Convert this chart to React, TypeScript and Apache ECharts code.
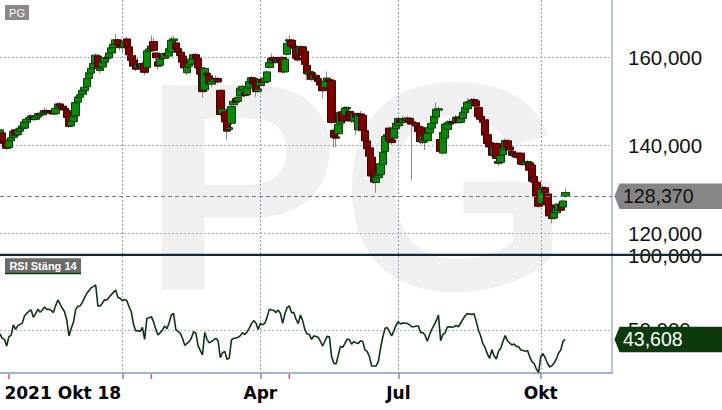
import React, { useEffect, useRef } from "react";
import * as echarts from "echarts";

// ---------- DATA ----------
const TICKER = "PG";
const RSI_TITLE = "RSI Stäng 14";

// NYSE trading days shown on the chart (month -> days)
const TRADING_DAYS: [string, number[]][] = [
  ["2021-10", [14, 15, 18, 19, 20, 21, 22, 25, 26, 27, 28, 29]],
  ["2021-11", [1, 2, 3, 4, 5, 8, 9, 10, 11, 12, 15, 16, 17, 18, 19, 22, 23, 24, 26, 29, 30]],
  ["2021-12", [1, 2, 3, 6, 7, 8, 9, 10, 13, 14, 15, 16, 17, 20, 21, 22, 23, 27, 28, 29, 30, 31]],
  ["2022-01", [3, 4, 5, 6, 7, 10, 11, 12, 13, 14, 18, 19, 20, 21, 24, 25, 26, 27, 28, 31]],
  ["2022-02", [1, 2, 3, 4, 7, 8, 9, 10, 11, 14, 15, 16, 17, 18, 22, 23, 24, 25, 28]],
  ["2022-03", [1, 2, 3, 4, 7, 8, 9, 10, 11, 14, 15, 16, 17, 18, 21, 22, 23, 24, 25, 28, 29, 30, 31]],
  ["2022-04", [1, 4, 5, 6, 7, 8, 11, 12, 13, 14, 18, 19, 20, 21, 22, 25, 26, 27, 28, 29]],
  ["2022-05", [2, 3, 4, 5, 6, 9, 10, 11, 12, 13, 16, 17, 18, 19, 20, 23, 24, 25, 26, 27, 31]],
  ["2022-06", [1, 2, 3, 6, 7, 8, 9, 10, 13, 14, 15, 16, 17, 21, 22, 23, 24, 27, 28, 29, 30]],
  ["2022-07", [1, 5, 6, 7, 8, 11, 12, 13, 14, 15, 18, 19, 20, 21, 22, 25, 26, 27, 28, 29]],
  ["2022-08", [1, 2, 3, 4, 5, 8, 9, 10, 11, 12, 15, 16, 17, 18, 19, 22, 23, 24, 25, 26, 29, 30, 31]],
  ["2022-09", [1, 2, 6, 7, 8, 9, 12, 13, 14, 15, 16, 19, 20, 21, 22, 23, 26, 27, 28, 29, 30]],
  ["2022-10", [3, 4, 5, 6, 7, 10, 11, 12, 13, 14, 17, 18]],
];
const FUTURE_SLOTS = 21; // empty space right of the last candle

const OPEN = [
  142.2, 142.8, 141.2, 140.6, 139.5, 141.0, 141.8, 143.5, 142.4, 143.2, 143.8, 143.9,
  145.2, 145.8, 146.2, 146.6, 145.9, 146.4, 147.2, 146.9, 147.3, 147.9, 147.5, 147.7,
  147.4, 147.2, 148.4, 149.4, 148.9, 148.4, 147.9, 146.5, 144.4, 145.4, 146.7, 149.8,
  150.9, 151.6, 152.4, 153.3, 155.2, 156.4, 157.5, 158.7, 160.3, 157.0, 157.8, 158.9,
  159.9, 159.9, 161.0, 162.2, 163.0, 164.0, 162.9, 162.6, 162.3, 164.2, 162.4, 160.4,
  159.4, 158.1, 157.6, 158.4, 157.8, 158.6, 157.7, 161.4, 161.9, 163.6, 161.0, 159.0,
  158.2, 160.2, 159.8, 160.9, 160.3, 161.2, 163.8, 163.3, 162.0, 161.2, 160.3, 158.9,
  156.5, 157.9, 158.4, 159.6, 160.6, 159.8, 157.6, 156.2, 152.6, 156.4, 155.8, 153.9,
  154.5, 155.0, 155.2, 152.5, 147.2, 147.6, 145.5, 143.6, 145.0, 149.2, 150.6, 150.0,
  151.2, 152.6, 152.0, 151.5, 153.0, 154.4, 155.2, 154.6, 152.3, 153.6, 155.0, 154.3,
  154.5, 157.7, 158.8, 160.0, 159.4, 158.9, 159.9, 160.0, 156.7, 160.7, 163.7, 163.9,
  162.6, 162.3, 159.9, 160.7, 162.4, 161.4, 158.2, 156.1, 156.5, 155.0, 155.9, 155.2,
  154.3, 154.0, 153.2, 154.5, 154.9, 154.7, 143.4, 141.9, 142.6, 145.0, 147.6, 146.8,
  148.3, 147.7, 146.8, 145.5, 147.2, 143.5, 147.1, 146.8, 143.3, 141.0, 139.4, 137.3,
  134.3, 131.5, 132.6, 133.3, 135.6, 138.6, 142.1, 143.9, 141.2, 141.6, 143.8, 144.4,
  145.8, 145.2, 145.9, 145.6, 146.1, 145.3, 144.9, 145.1, 144.3, 144.1, 140.6, 142.2,
  141.0, 142.8, 143.9, 145.0, 146.4, 148.0, 141.3, 138.2, 141.6, 143.6, 144.8, 145.4,
  145.3, 145.2, 146.4, 145.2, 146.1, 147.4, 148.3, 149.7, 149.7, 150.4, 150.1, 148.6,
  146.6, 145.7, 145.8, 142.4, 140.6, 140.4, 137.7, 140.4, 136.3, 136.1, 137.8, 139.0,
  141.0, 139.6, 138.6, 137.7, 138.2, 137.3, 138.2, 135.7, 135.7, 136.1, 136.0, 135.5,
  132.9, 131.6, 128.6, 126.8, 129.8, 130.3, 128.9, 126.4, 123.7, 123.4, 124.6, 125.2,
  126.4, 125.9, 128.37,
];
const CLOSE = [
  143.5, 141.0, 140.4, 139.3, 141.1, 141.7, 143.2, 142.3, 143.3, 143.9, 144.4, 145.3,
  145.9, 146.3, 146.7, 145.9, 146.5, 147.2, 146.9, 147.3, 147.9, 147.5, 147.6, 147.4,
  147.1, 148.4, 149.4, 148.9, 148.4, 148.0, 146.3, 144.3, 145.4, 146.6, 149.7, 151.0,
  151.5, 152.5, 153.2, 155.2, 156.5, 157.5, 158.6, 160.5, 157.5, 157.6, 158.8, 159.9,
  159.8, 161.0, 162.2, 163.0, 164.0, 162.9, 162.4, 162.2, 163.5, 162.4, 160.6, 159.3,
  158.0, 157.3, 158.4, 157.8, 158.6, 156.6, 161.5, 161.9, 162.6, 161.6, 159.9, 158.0,
  159.6, 159.8, 160.9, 160.4, 162.0, 163.9, 164.2, 161.9, 161.2, 160.4, 158.9, 157.6,
  157.8, 158.6, 159.6, 160.6, 159.8, 157.6, 156.2, 152.2, 157.5, 156.0, 154.0, 154.6,
  155.0, 155.2, 154.4, 147.0, 148.2, 145.3, 143.2, 144.0, 148.8, 150.0, 149.8, 150.9,
  153.0, 153.4, 151.3, 153.0, 154.5, 155.4, 154.0, 152.2, 152.8, 155.0, 154.3, 155.3,
  156.7, 158.8, 159.8, 159.3, 158.9, 159.8, 159.0, 156.7, 159.6, 163.2, 164.0, 162.5,
  162.1, 159.8, 159.4, 162.4, 160.5, 158.4, 156.3, 156.8, 155.0, 155.9, 155.3, 154.5,
  153.7, 152.4, 154.6, 155.3, 154.5, 145.2, 141.8, 141.6, 144.8, 147.5, 145.5, 148.5,
  148.6, 146.8, 145.5, 147.2, 146.4, 147.1, 146.7, 143.4, 141.0, 139.2, 137.5, 133.0,
  131.6, 132.7, 133.2, 135.8, 138.4, 142.0, 142.4, 141.0, 140.6, 143.9, 145.0, 146.1,
  145.2, 146.0, 145.7, 146.2, 145.3, 144.8, 145.0, 144.4, 143.1, 140.8, 142.3, 141.1,
  142.7, 144.0, 145.0, 146.6, 148.2, 148.3, 138.6, 142.9, 144.8, 145.0, 145.3, 145.1,
  145.1, 146.4, 145.2, 146.0, 147.5, 148.6, 149.8, 149.9, 150.3, 150.1, 148.9, 146.5,
  145.9, 145.2, 142.3, 140.4, 139.6, 137.7, 139.5, 137.0, 135.9, 137.7, 139.3, 141.1,
  139.5, 138.9, 137.7, 138.1, 137.3, 137.2, 135.7, 135.6, 136.2, 136.3, 134.3, 131.8,
  131.6, 128.4, 126.1, 130.0, 130.4, 129.2, 126.4, 123.9, 123.3, 124.6, 125.8, 126.6,
  125.2, 127.3, 129.25,
];
const LOW = [
  141.9, 140.6, 139.8, 138.9, 139.2, 140.6, 141.5, 141.9, 142.1, 142.9, 143.5, 143.6,
  144.9, 145.5, 145.9, 145.5, 145.6, 146.1, 146.5, 146.6, 147.0, 147.2, 147.1, 147.0,
  146.8, 147.0, 148.1, 148.5, 148.0, 147.6, 145.9, 143.9, 144.1, 145.2, 146.5, 149.5,
  150.6, 151.3, 152.1, 153.1, 154.9, 156.1, 157.2, 158.4, 157.1, 156.4, 157.5, 158.6,
  159.4, 159.6, 160.7, 161.9, 162.7, 162.5, 161.6, 161.0, 162.0, 162.0, 160.2, 158.9,
  157.6, 156.9, 157.3, 157.4, 157.5, 156.0, 157.4, 161.0, 161.5, 161.2, 159.3, 157.2,
  157.9, 159.3, 159.5, 160.0, 160.0, 160.9, 163.1, 161.5, 160.8, 160.0, 158.5, 157.1,
  156.0, 157.5, 158.0, 159.3, 159.3, 157.2, 155.8, 150.8, 152.2, 155.6, 153.0, 153.2,
  154.1, 154.6, 153.9, 146.6, 146.9, 144.9, 141.2, 143.0, 144.6, 148.8, 149.4, 149.7,
  150.9, 152.2, 150.9, 151.2, 152.7, 154.0, 153.6, 151.0, 151.9, 153.3, 153.9, 154.0,
  154.2, 157.4, 158.5, 158.9, 158.5, 158.6, 158.6, 156.3, 156.4, 160.4, 162.8, 162.1,
  161.7, 159.3, 158.9, 160.4, 160.1, 158.0, 154.8, 155.0, 154.6, 154.7, 154.8, 154.1,
  153.2, 150.7, 152.9, 154.2, 154.1, 144.7, 139.6, 139.6, 142.2, 144.6, 145.1, 146.4,
  147.9, 146.3, 145.0, 145.1, 142.3, 143.1, 146.2, 143.0, 140.6, 138.7, 137.0, 132.5,
  131.2, 129.2, 132.2, 133.0, 135.3, 138.3, 141.7, 140.5, 140.1, 141.3, 143.4, 144.1,
  144.8, 144.9, 145.2, 145.1, 144.9, 132.0, 144.2, 144.0, 142.7, 140.3, 140.2, 138.9,
  140.6, 142.4, 143.5, 144.6, 146.0, 147.5, 138.2, 137.9, 141.2, 143.2, 144.4, 144.6,
  144.8, 144.9, 144.8, 144.9, 145.8, 147.0, 148.0, 149.3, 149.3, 149.6, 148.5, 146.1,
  145.5, 144.8, 141.9, 140.0, 139.2, 137.3, 137.3, 136.6, 135.3, 135.8, 137.5, 138.7,
  139.1, 138.5, 137.3, 137.3, 136.9, 136.7, 135.3, 135.2, 135.3, 135.8, 133.9, 131.4,
  131.2, 128.0, 125.7, 126.5, 129.4, 128.8, 126.0, 123.5, 122.2, 123.0, 124.3, 124.9,
  124.8, 125.5, 128.0,
];
const HIGH = [
  143.9, 143.2, 141.6, 141.0, 141.5, 142.0, 143.6, 144.0, 143.6, 144.3, 144.8, 145.6,
  146.3, 146.7, 147.1, 146.9, 146.8, 147.5, 147.7, 147.6, 148.6, 148.3, 147.9, 148.0,
  147.6, 148.7, 149.7, 149.9, 149.2, 148.9, 148.2, 146.8, 145.7, 147.0, 150.0, 151.4,
  151.9, 152.8, 153.6, 155.5, 157.1, 157.9, 159.6, 160.9, 160.8, 158.0, 159.2, 160.3,
  160.3, 161.8, 162.6, 163.4, 165.3, 164.3, 163.6, 163.0, 164.2, 164.6, 162.7, 160.7,
  159.8, 158.5, 159.9, 158.8, 159.1, 158.9, 162.0, 162.5, 165.0, 164.4, 161.3, 159.4,
  160.0, 160.5, 161.2, 161.4, 162.4, 164.8, 164.9, 163.7, 162.3, 161.5, 160.6, 159.2,
  158.1, 159.0, 160.0, 161.0, 161.0, 160.1, 157.9, 156.5, 157.9, 156.8, 156.1, 155.0,
  155.4, 155.8, 155.5, 152.8, 148.6, 148.0, 145.8, 144.4, 149.2, 150.4, 150.9, 151.3,
  153.4, 153.8, 152.4, 153.4, 154.9, 155.8, 155.6, 154.9, 153.2, 155.4, 155.3, 155.7,
  157.0, 159.2, 160.9, 160.4, 159.8, 160.2, 160.2, 160.3, 160.0, 164.5, 165.0, 164.2,
  163.0, 162.6, 160.4, 162.8, 162.7, 161.7, 158.5, 157.2, 156.8, 156.2, 156.3, 155.6,
  154.6, 154.3, 155.0, 156.8, 155.2, 155.0, 143.8, 142.4, 145.2, 147.9, 147.9, 148.9,
  149.0, 148.0, 147.1, 147.6, 147.6, 147.5, 147.8, 147.2, 143.6, 141.3, 139.7, 137.6,
  134.6, 133.1, 133.7, 136.2, 138.8, 142.4, 142.9, 144.3, 141.8, 144.2, 145.4, 146.5,
  146.2, 146.7, 146.5, 146.6, 146.4, 145.6, 145.9, 145.5, 144.6, 144.3, 142.7, 142.5,
  143.0, 144.4, 145.4, 147.0, 149.8, 148.8, 142.0, 143.4, 145.2, 145.7, 146.1, 145.8,
  145.9, 146.9, 146.8, 146.4, 147.9, 149.0, 150.7, 150.4, 150.7, 150.8, 150.4, 148.9,
  146.9, 146.0, 146.1, 142.7, 140.9, 140.7, 139.9, 140.7, 136.7, 138.0, 139.7, 141.5,
  141.4, 140.7, 138.9, 138.5, 138.5, 137.7, 138.5, 136.1, 136.6, 136.7, 136.4, 135.8,
  133.2, 131.9, 128.9, 130.9, 130.8, 130.6, 129.2, 126.7, 124.0, 125.0, 126.2, 127.0,
  126.7, 127.7, 130.2,
];
const RSI = [
  47.4, 44.4, 43.7, 39.2, 45.5, 46.4, 53.4, 50.4, 52.9, 53.8, 54.5, 59.4,
  61.2, 62.6, 63.5, 58.5, 61.0, 63.9, 61.9, 63.5, 65.5, 63.9, 63.9, 63.2,
  61.7, 66.4, 70.2, 67.5, 64.6, 62.3, 56.7, 46.0, 51.1, 55.2, 63.9, 65.9,
  66.2, 68.6, 71.8, 74.7, 76.5, 78.5, 79.2, 80.3, 66.2, 66.2, 68.0, 70.4,
  70.2, 72.0, 73.8, 75.3, 76.9, 71.8, 71.3, 69.7, 70.6, 69.7, 65.7, 62.3,
  53.8, 49.3, 49.6, 48.9, 51.8, 43.7, 57.9, 58.3, 59.0, 55.6, 50.4, 46.6,
  48.2, 50.0, 52.7, 50.9, 54.9, 60.1, 61.2, 50.2, 49.1, 47.8, 44.4, 39.7,
  41.0, 42.2, 44.6, 48.9, 47.8, 39.5, 36.1, 33.2, 48.4, 43.7, 41.3, 42.2,
  43.3, 44.4, 42.6, 31.4, 34.7, 35.6, 30.3, 30.9, 43.3, 44.4, 44.6, 45.1,
  46.2, 48.2, 46.9, 48.7, 51.1, 54.3, 56.3, 54.7, 50.4, 54.5, 53.4, 54.5,
  58.5, 63.9, 63.5, 63.2, 61.7, 63.5, 61.2, 54.5, 60.8, 65.0, 66.2, 61.7,
  61.7, 57.4, 54.3, 60.1, 56.3, 50.2, 47.3, 47.1, 43.7, 46.0, 45.7, 45.1,
  42.4, 39.2, 42.6, 45.7, 45.5, 32.1, 27.6, 27.1, 33.0, 39.0, 38.3, 41.0,
  43.9, 43.5, 40.4, 42.2, 41.3, 41.0, 42.8, 42.2, 36.5, 35.6, 32.1, 25.8,
  25.8, 25.8, 28.7, 37.7, 45.1, 51.1, 51.6, 48.9, 46.0, 49.3, 53.4, 55.6,
  54.0, 54.7, 54.5, 54.5, 53.4, 52.2, 52.2, 52.7, 52.7, 48.2, 48.4, 46.4,
  42.4, 46.6, 50.4, 53.1, 56.1, 60.1, 42.8, 46.9, 48.0, 52.0, 52.2, 51.8,
  52.2, 53.1, 52.2, 54.7, 57.2, 59.6, 61.0, 60.8, 60.5, 61.0, 55.8, 49.8,
  46.0, 40.8, 38.1, 33.9, 30.9, 36.8, 32.7, 30.5, 35.6, 37.7, 42.2, 46.2,
  42.8, 41.3, 39.9, 40.6, 39.0, 38.8, 36.5, 36.3, 35.6, 36.3, 32.1, 28.7,
  27.6, 23.8, 21.3, 32.1, 34.1, 31.2, 27.6, 25.1, 26.0, 27.8, 30.5, 34.5,
  36.5, 42.4, 43.608,
];

const LAST_PRICE = 128.37;
const LAST_RSI = 43.608;
const PRICE_TICKS = [120, 140, 160];
const PRICE_RANGE = [115, 173.07];
const RSI_TICKS = [50, 100];
const RSI_GRID_TICKS = [50];
const RSI_RANGE = [21.06, 100];
const GRID_MONTHS = ["2022-01", "2022-04", "2022-07", "2022-10"];
const LABEL_MONTHS = ["2022-04", "2022-07", "2022-10"];
const START_DATE = "2021-10-18";
const START_LABEL = "2021 Okt 18";
const EVENT_DATES = ["2021-10-20", "2022-01-21", "2022-04-21"];
const MONTHS_SV = ["Jan", "Feb", "Mar", "Apr", "Maj", "Jun", "Jul", "Aug", "Sep", "Okt", "Nov", "Dec"];

// ---------- helpers ----------
const DATES: string[] = TRADING_DAYS.flatMap(([m, days]) =>
  days.map((d) => `${m}-${String(d).padStart(2, "0")}`)
);
const CATEGORIES: string[] = [
  ...DATES,
  ...Array.from({ length: FUTURE_SLOTS }, (_, k) => `next-${k + 1}`),
];
const firstIndexOf = (month: string) => DATES.findIndex((d) => d.startsWith(month));
const GRID_IDX = new Set(GRID_MONTHS.map(firstIndexOf));
const LABEL_IDX = new Set(LABEL_MONTHS.map(firstIndexOf));
const fmt3 = (v: number) => v.toFixed(3).replace(".", ",");

const AXIS_COLOR = "#a3b5ca";
const VGRID = { color: "#8d9cb0", type: [2, 2] as number[], width: 1 };
const HGRID = { color: "#a9b5c3", type: [2, 2] as number[], width: 1 };

export default function App() {
  const ref = useRef<HTMLDivElement>(null);

  useEffect(() => {
    if (!ref.current) return;
    const chart = echarts.init(ref.current, null, { renderer: "svg" });

    const wicks = OPEN.map((o, k) => [o, CLOSE[k], LOW[k], HIGH[k]]);
    const bodies = OPEN.map((o, k) => [o, CLOSE[k], Math.min(o, CLOSE[k]), Math.max(o, CLOSE[k])]);

    const option: any = {
      animation: false,
      backgroundColor: "#ffffff",
      grid: [
        { left: 0, right: 110, top: -1, height: 256 },
        { left: 0, right: 110, top: 255.7, height: 117.3 },
      ],
      xAxis: [
        {
          gridIndex: 0,
          type: "category",
          data: CATEGORIES,
          boundaryGap: false,
          axisLine: { show: false },
          axisTick: { show: false },
          axisLabel: { show: false },
          splitLine: { show: true, interval: (i: number) => GRID_IDX.has(i), lineStyle: VGRID },
        },
        {
          gridIndex: 1,
          type: "category",
          data: CATEGORIES,
          boundaryGap: false,
          axisLine: { show: true, onZero: false, lineStyle: { color: AXIS_COLOR, width: 2 } },
          axisTick: {
            show: true,
            interval: (i: number) => GRID_IDX.has(i),
            length: 6,
            lineStyle: { color: "#7f8fa3", width: 1.5 },
          },
          axisLabel: {
            show: true,
            interval: (i: number) => LABEL_IDX.has(i),
            formatter: (v: string) => MONTHS_SV[parseInt(v.slice(5, 7), 10) - 1],
            fontFamily: "DejaVu Sans",
            fontWeight: "bold",
            fontSize: 17,
            color: "#000",
            margin: 11,
          },
          splitLine: { show: true, interval: (i: number) => GRID_IDX.has(i), lineStyle: VGRID },
        },
      ],
      yAxis: [
        {
          gridIndex: 0,
          type: "value",
          position: "right",
          min: PRICE_RANGE[0],
          max: PRICE_RANGE[1],
          axisLine: { show: true, lineStyle: { color: AXIS_COLOR, width: 1.5 } },
          axisTick: { show: false, customValues: PRICE_TICKS },
          axisLabel: {
            customValues: PRICE_TICKS,
            formatter: (v: number) => fmt3(v),
            fontFamily: "Liberation Sans",
            fontSize: 20.5,
            color: "#111",
            margin: 16,
          },
          splitLine: { show: true, lineStyle: HGRID },
        },
        {
          gridIndex: 1,
          type: "value",
          position: "right",
          min: RSI_RANGE[0],
          max: RSI_RANGE[1],
          axisLine: { show: true, lineStyle: { color: AXIS_COLOR, width: 1.5 } },
          axisTick: { show: false, customValues: RSI_GRID_TICKS },
          axisLabel: {
            customValues: RSI_TICKS,
            formatter: (v: number) => fmt3(v),
            fontFamily: "Liberation Sans",
            fontSize: 20.5,
            color: "#111",
            margin: 16,
          },
          splitLine: { show: true, lineStyle: HGRID },
        },
      ],
      series: [
        {
          name: "wick",
          type: "candlestick",
          xAxisIndex: 0,
          yAxisIndex: 0,
          data: wicks,
          barWidth: 1,
          silent: true,
          itemStyle: {
            color: "transparent",
            color0: "transparent",
            borderColor: "#8a8a8a",
            borderColor0: "#8a8a8a",
            borderWidth: 1,
          },
        },
        {
          name: TICKER,
          type: "candlestick",
          xAxisIndex: 0,
          yAxisIndex: 0,
          data: bodies,
          barWidth: 8,
          itemStyle: {
            color: "#0a880a",
            color0: "#7d0000",
            borderColor: "#0d3d0d",
            borderColor0: "#3f0000",
            borderWidth: 1,
          },
          markLine: {
            silent: true,
            symbol: "none",
            label: { show: false },
            lineStyle: { type: [4, 3], color: "#777", width: 1 },
            data: [{ yAxis: LAST_PRICE }],
          },
        },
        {
          name: RSI_TITLE,
          type: "line",
          xAxisIndex: 1,
          yAxisIndex: 1,
          data: RSI,
          showSymbol: false,
          symbol: "none",
          lineStyle: { color: "#0d3512", width: 1.6 },
        },
      ],
    };
    chart.setOption(option);

    const W = chart.getWidth();
    const xRight = chart.convertToPixel({ xAxisIndex: 0 }, CATEGORIES[CATEGORIES.length - 1]) as number;
    const yPrice = chart.convertToPixel({ yAxisIndex: 0 }, LAST_PRICE) as number;
    const yRsi = chart.convertToPixel({ yAxisIndex: 1 }, LAST_RSI) as number;
    const ySep = chart.convertToPixel({ yAxisIndex: 0 }, PRICE_RANGE[0]) as number;
    const yAxisX = chart.convertToPixel({ yAxisIndex: 1 }, RSI_RANGE[0]) as number;
    const xStart = chart.convertToPixel({ xAxisIndex: 1 }, START_DATE) as number;
    const yTopPrice = chart.convertToPixel({ yAxisIndex: 0 }, PRICE_RANGE[1]) as number;
    const yTopRsi = chart.convertToPixel({ yAxisIndex: 1 }, RSI_RANGE[1]) as number;

    const tag = (y: number, fill: string, textFill: string, text: string) => [
      {
        type: "polygon",
        z: 100,
        shape: {
          points: [
            [xRight + 2.5, y],
            [xRight + 7.5, y - 12.7],
            [W, y - 12.7],
            [W, y + 12.7],
            [xRight + 7.5, y + 12.7],
          ],
        },
        style: { fill },
      },
      {
        type: "text",
        z: 101,
        x: xRight + 11,
        y,
        style: {
          text,
          fill: textFill,
          fontFamily: "Liberation Sans",
          fontSize: 19.5,
          align: "left",
          verticalAlign: "middle",
        },
      },
    ];

    const eventTicks = EVENT_DATES.map((d) => {
      const x = chart.convertToPixel({ xAxisIndex: 1 }, d) as number;
      return {
        type: "line",
        z: 100,
        shape: { x1: x, y1: yAxisX + 1, x2: x, y2: yAxisX + 6 },
        style: { stroke: "#e05a5a", lineWidth: 1.5 },
      };
    });

    chart.setOption({
      graphic: {
        elements: [
          {
            type: "text",
            z: -10,
            silent: true,
            x: xRight * 0.582,
            y: (yTopPrice + yAxisX) / 2,
            style: {
              text: TICKER,
              fill: "#f0f0f0",
              fontFamily: "Liberation Sans",
              fontWeight: "bold",
              fontSize: 297,
              align: "center",
              verticalAlign: "middle",
            },
          },
          {
            type: "rect",
            z: 100,
            shape: { x: 0, y: ySep - 1.2, width: W, height: 2.2 },
            style: { fill: "#0f2c3a" },
          },
          {
            type: "rect",
            z: 100,
            shape: { x: 5, y: yTopPrice + 5, width: 24, height: 15 },
            style: { fill: "#8a8a8a" },
          },
          {
            type: "text",
            z: 101,
            x: 17,
            y: yTopPrice + 12.5,
            style: {
              text: TICKER,
              fill: "#ffffff",
              fontFamily: "Liberation Sans",
              fontSize: 11,
              align: "center",
              verticalAlign: "middle",
            },
          },
          {
            type: "rect",
            z: 100,
            shape: { x: 5, y: yTopRsi + 2.5, width: 76, height: 14.5 },
            style: { fill: "#6b6b6b" },
          },
          {
            type: "rect",
            z: 100,
            shape: { x: 5, y: yTopRsi + 16.8, width: 76, height: 1.8 },
            style: { fill: "#0a3a0a" },
          },
          {
            type: "text",
            z: 101,
            x: 43,
            y: yTopRsi + 10,
            style: {
              text: RSI_TITLE,
              fill: "#ffffff",
              fontFamily: "Liberation Sans",
              fontWeight: "bold",
              fontSize: 11,
              align: "center",
              verticalAlign: "middle",
            },
          },
          ...tag(yPrice, "#858585", "#111111", fmt3(LAST_PRICE)),
          ...tag(yRsi, "#0c3a0c", "#ffffff", fmt3(LAST_RSI)),
          {
            type: "text",
            z: 100,
            x: xStart,
            y: yAxisX + 11,
            style: {
              text: START_LABEL,
              fill: "#000",
              fontFamily: "DejaVu Sans",
              fontWeight: "bold",
              fontSize: 17,
              align: "left",
              verticalAlign: "top",
            },
          },
          ...eventTicks,
        ],
      },
    });

    return () => chart.dispose();
  }, []);

  return (
    <div
      ref={ref}
      style={{ position: "absolute", left: 0, top: 0, width: 722, height: 410, background: "#fff" }}
    />
  );
}
